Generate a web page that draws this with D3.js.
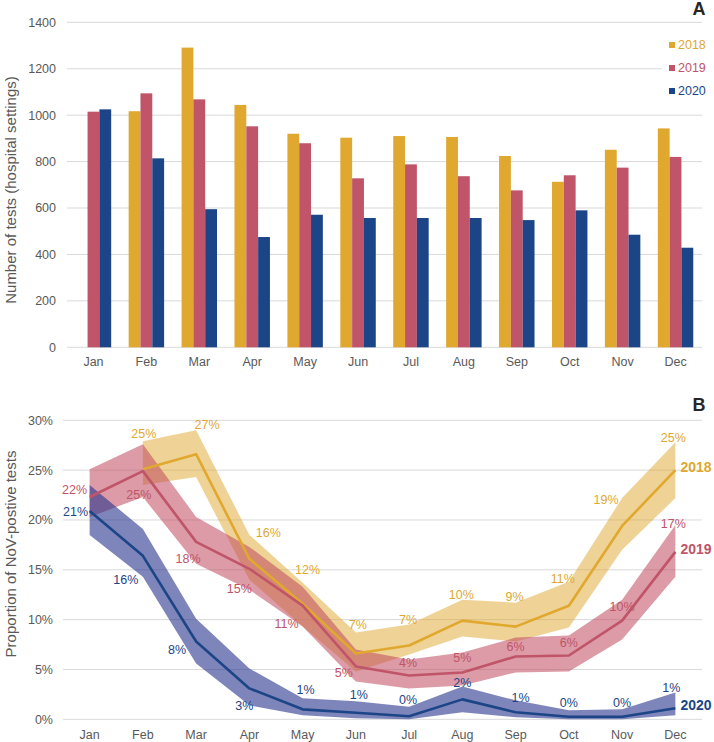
<!DOCTYPE html>
<html>
<head>
<meta charset="utf-8">
<script src="https://cdn.jsdelivr.net/npm/d3@7"></script>
<style>
  body { margin: 0; background: #fff; }
  svg text { font-family: "Liberation Sans", Arial, sans-serif; }
</style>
</head>
<body>
<script>
const months = ["Jan", "Feb", "Mar", "Apr", "May", "Jun", "Jul", "Aug", "Sep", "Oct", "Nov", "Dec"];
const years = ["2018", "2019", "2020"];

// panel A: number of tests
const tests2018 = [null, 1017, 1291, 1044, 920, 903, 910, 906, 824, 713, 851, 943];
const tests2019 = [1015, 1094, 1068, 952, 879, 728, 788, 737, 676, 741, 774, 820];
const tests2020 = [1025, 814, 595, 475, 571, 557, 557, 557, 548, 590, 485, 429];

// panel B: % positive, with lower / upper bounds
const pos2018 = [null, 25.1, 26.6, 16.1, 11.6, 6.6, 7.4, 9.9, 9.3, 11.4, 19.4, 25.0];
const lo2018  = [null, 23.5, 24.3, 14.0, 9.3, 4.8, 6.5, 8.3, 7.8, 9.2, 17.0, 22.2];
const hi2018  = [null, 27.9, 29.0, 18.5, 13.7, 8.7, 9.5, 12.0, 11.7, 13.8, 22.2, 27.8];

const pos2019 = [22.3, 24.9, 17.8, 15.1, 11.4, 5.3, 4.4, 4.7, 6.3, 6.4, 9.9, 16.8];
const lo2019  = [20.3, 22.3, 15.6, 13.0, 9.3, 3.8, 3.1, 3.4, 4.7, 4.8, 8.0, 14.3];
const hi2019  = [25.1, 27.6, 20.3, 17.3, 13.3, 7.0, 6.0, 6.7, 8.2, 8.4, 12.0, 19.5];

const pos2020 = [20.9, 16.4, 7.8, 3.1, 1.0, 0.66, 0.3, 2.0, 0.7, 0.26, 0.26, 1.1];
const lo2020  = [18.5, 14.3, 5.6, 1.4, 0.4, 0.1, 0.0, 0.7, 0.2, 0.0, 0.0, 0.4];
const hi2020  = [23.5, 19.1, 10.1, 5.1, 2.1, 1.8, 1.25, 3.3, 1.9, 0.9, 1.0, 2.7];

// label nudges (px) relative to each point
const lblOff2018 = [null, [1,-36], [11,-30], [19,-26], [5,-34], [2,-29], [-1,-26], [-1,-26], [-1,-30], [-6,-27], [-16,-26], [-2,-33]];
const lblOff2019 = [[-15,-7], [-4,23], [-8,17], [-10,20], [-16,18], [-12,6], [-1,-13], [0,-15], [0,-10], [0,-13], [0,-14], [-2,-28]];
const lblOff2020 = [[-14,1], [-17,24], [-19,8], [-5,17], [3,-20], [3,-18], [-1,-17], [0,-17], [5,-15], [0,-14], [0,-14], [-4,-21]];

const colors = { "2018": "#E0A82E", "2019": "#C05468", "2020": "#1C4587" };
const bandColors = { "2018": "#E0A82E", "2019": "#C0485E", "2020": "#28338C" };
const bandOpacity = { "2018": 0.5, "2019": 0.55, "2020": 0.6 };

const W = 714, H = 742;
const gridColor = "#D9D9D9", tickColor = "#595959";

const svg = d3.select("body").append("svg")
    .attr("width", W)
    .attr("height", H);

// ---------- panel A ----------
const a = { left: 67, right: 702, top: 22.3, bottom: 347.3 };

const xA = d3.scaleBand().domain(months).range([a.left, a.right]).paddingInner(0.33).paddingOuter(0.165);
const xYear = d3.scaleBand().domain(years).range([0, xA.bandwidth()]);
const yA = d3.scaleLinear().domain([0, 1400]).range([a.bottom, a.top]);

const gA = svg.append("g");

gA.append("g")
    .selectAll("line")
    .data(yA.ticks(7))
    .join("line")
    .attr("x1", a.left).attr("x2", a.right)
    .attr("y1", d => yA(d)).attr("y2", d => yA(d))
    .attr("stroke", gridColor).attr("stroke-width", 1);

gA.append("g")
    .selectAll("text")
    .data(yA.ticks(7))
    .join("text")
    .attr("x", a.left - 11)
    .attr("y", d => yA(d))
    .attr("dy", "0.35em")
    .attr("text-anchor", "end")
    .attr("font-size", 12.5)
    .attr("fill", tickColor)
    .text(d => d);

const barRows = [];
months.forEach((m, i) => {
    [tests2018, tests2019, tests2020].forEach((arr, k) => {
        if (arr[i] != null) barRows.push({ month: m, year: years[k], value: arr[i] });
    });
});

gA.append("g")
    .selectAll("rect")
    .data(barRows)
    .join("rect")
    .attr("x", d => xA(d.month) + xYear(d.year))
    .attr("width", xYear.bandwidth())
    .attr("y", d => yA(d.value))
    .attr("height", d => yA(0) - yA(d.value))
    .attr("fill", d => colors[d.year]);

gA.append("g")
    .selectAll("text")
    .data(months)
    .join("text")
    .attr("x", d => xA(d) + xA.bandwidth() / 2)
    .attr("y", 362)
    .attr("dy", "0.35em")
    .attr("text-anchor", "middle")
    .attr("font-size", 12.5)
    .attr("fill", tickColor)
    .text(d => d);

gA.append("text")
    .attr("transform", `translate(10,190) rotate(-90)`)
    .attr("text-anchor", "middle")
    .attr("dominant-baseline", "central")
    .attr("font-size", 15)
    .attr("fill", tickColor)
    .text("Number of tests (hospital settings)");

// legend
const legend = gA.append("g");
legend.append("rect")
    .attr("x", 662).attr("y", 34).attr("width", 52).attr("height", 68)
    .attr("fill", "#fff");
const legItem = legend.selectAll("g.item")
    .data(years)
    .join("g")
    .attr("class", "item")
    .attr("transform", (d, i) => `translate(669,${45 + i * 23})`);
legItem.append("rect")
    .attr("x", 0).attr("y", -3).attr("width", 6).attr("height", 6)
    .attr("fill", d => colors[d]);
legItem.append("text")
    .attr("x", 9)
    .attr("dy", "0.35em")
    .attr("font-size", 12.5)
    .attr("fill", d => colors[d])
    .text(d => d);

svg.append("text")
    .attr("x", 699).attr("y", 15)
    .attr("text-anchor", "middle")
    .attr("font-size", 18).attr("font-weight", "bold")
    .attr("fill", "#262626")
    .text("A");

// ---------- panel B ----------
const b = { left: 63, right: 702, top: 420.3, bottom: 719.3 };

const xB = d3.scalePoint().domain(months).range([b.left, b.right]).padding(0.5);
const yB = d3.scaleLinear().domain([0, 30]).range([b.bottom, b.top]);

const gB = svg.append("g");

gB.append("g")
    .selectAll("line")
    .data(yB.ticks(6))
    .join("line")
    .attr("x1", b.left).attr("x2", b.right)
    .attr("y1", d => yB(d)).attr("y2", d => yB(d))
    .attr("stroke", gridColor).attr("stroke-width", 1);

gB.append("g")
    .selectAll("text")
    .data(yB.ticks(6))
    .join("text")
    .attr("x", b.left - 10)
    .attr("y", d => yB(d))
    .attr("dy", "0.35em")
    .attr("text-anchor", "end")
    .attr("font-size", 12.5)
    .attr("fill", tickColor)
    .text(d => d + "%");

gB.append("g")
    .selectAll("text")
    .data(months)
    .join("text")
    .attr("x", d => xB(d))
    .attr("y", 735)
    .attr("dy", "0.35em")
    .attr("text-anchor", "middle")
    .attr("font-size", 12.5)
    .attr("fill", tickColor)
    .text(d => d);

gB.append("text")
    .attr("transform", `translate(10,554) rotate(-90)`)
    .attr("text-anchor", "middle")
    .attr("dominant-baseline", "central")
    .attr("font-size", 15)
    .attr("fill", tickColor)
    .text("Proportion of NoV-postive tests");

const series = [
    { year: "2018", pos: pos2018, lo: lo2018, hi: hi2018, off: lblOff2018 },
    { year: "2019", pos: pos2019, lo: lo2019, hi: hi2019, off: lblOff2019 },
    { year: "2020", pos: pos2020, lo: lo2020, hi: hi2020, off: lblOff2020 }
];

const area = d3.area()
    .defined(d => d.lo != null)
    .x(d => xB(d.month))
    .y0(d => yB(d.lo))
    .y1(d => yB(d.hi));

const line = d3.line()
    .defined(d => d.v != null)
    .x(d => xB(d.month))
    .y(d => yB(d.v));

const rowsOf = s => months.map((m, i) => ({ month: m, v: s.pos[i], lo: s.lo[i], hi: s.hi[i], off: s.off[i] }));

gB.append("g")
    .selectAll("path")
    .data(series)
    .join("path")
    .attr("d", s => area(rowsOf(s)))
    .attr("fill", s => bandColors[s.year])
    .attr("fill-opacity", s => bandOpacity[s.year]);

gB.append("g")
    .selectAll("path")
    .data(series)
    .join("path")
    .attr("d", s => line(rowsOf(s)))
    .attr("fill", "none")
    .attr("stroke", s => colors[s.year])
    .attr("stroke-width", 2.6)
    .attr("stroke-linejoin", "round");

const fmt = d3.format(".0%");
series.forEach(s => {
    gB.append("g")
        .selectAll("text")
        .data(rowsOf(s).filter(d => d.v != null))
        .join("text")
        .attr("x", d => xB(d.month) + d.off[0])
        .attr("y", d => yB(d.v) + d.off[1])
        .attr("dy", "0.35em")
        .attr("text-anchor", "middle")
        .attr("font-size", 12.5)
        .attr("fill", colors[s.year])
        .text(d => fmt(d.v / 100));

    const last = months.length - 1;
    gB.append("text")
        .attr("x", xB(months[last]) + 5)
        .attr("y", yB(s.pos[last]) - 3)
        .attr("dy", "0.35em")
        .attr("font-size", 14)
        .attr("font-weight", "bold")
        .attr("fill", colors[s.year])
        .text(s.year);
});

svg.append("text")
    .attr("x", 699).attr("y", 411)
    .attr("text-anchor", "middle")
    .attr("font-size", 18).attr("font-weight", "bold")
    .attr("fill", "#262626")
    .text("B");
</script>
</body>
</html>
